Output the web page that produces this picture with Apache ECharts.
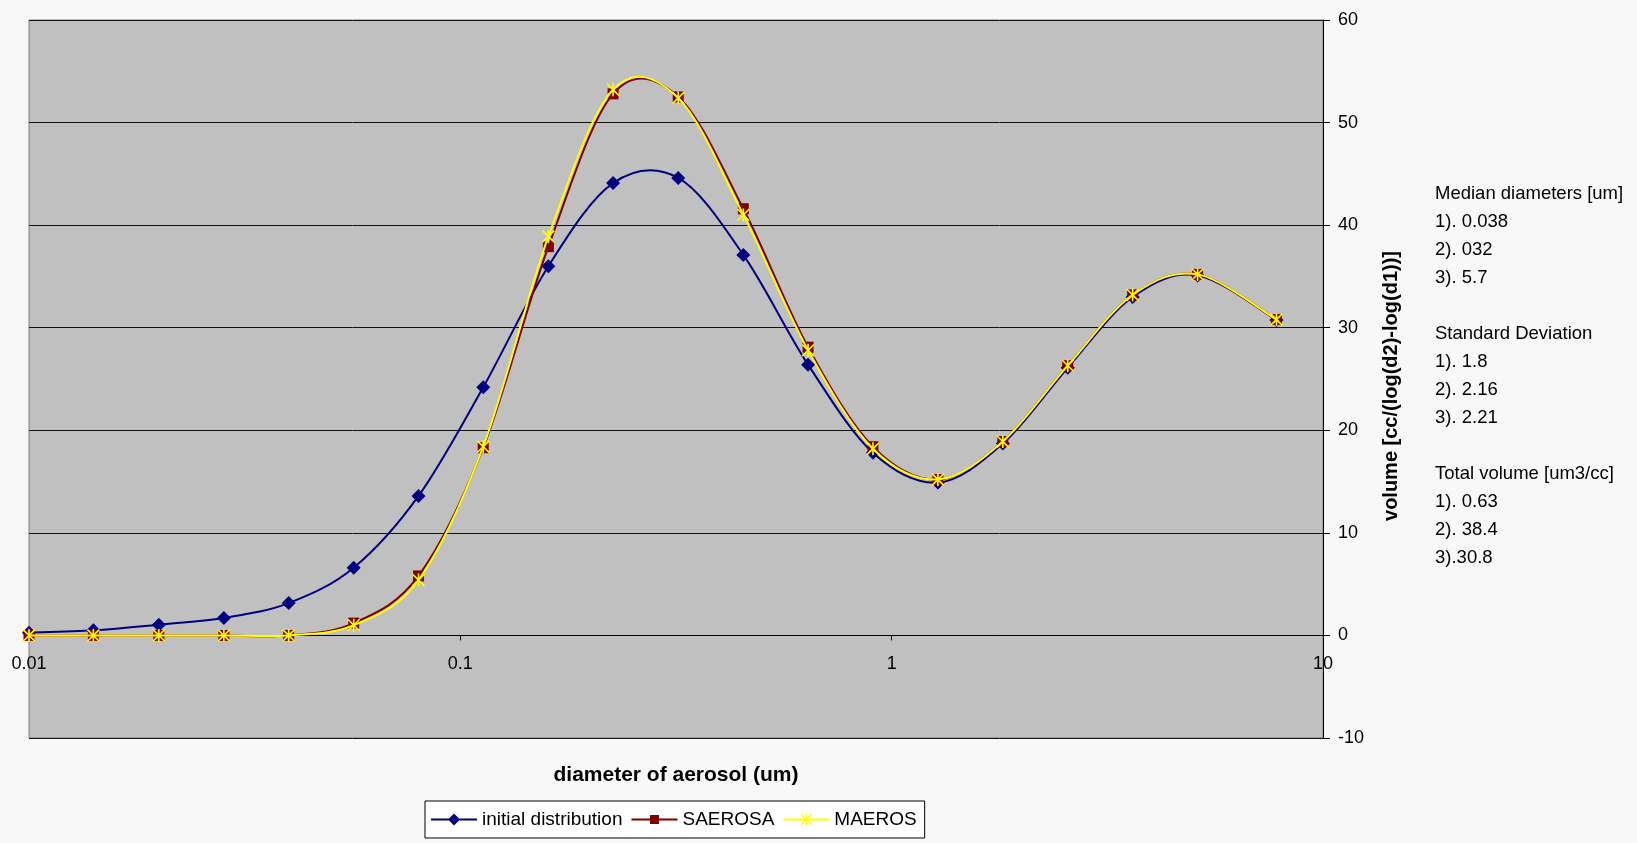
<!DOCTYPE html>
<html>
<head>
<meta charset="utf-8">
<title>Aerosol volume distribution</title>
<script src="https://cdn.jsdelivr.net/npm/echarts@6/dist/echarts.min.js"></script>
<style>
  html, body { margin: 0; padding: 0; background: #f8f8f8; }
  #chart { width: 1637px; height: 843px; }
</style>
</head>
<body>
<div id="chart"></div>
<script>
// Particle diameters (um), geometric bins
const diameters = [0.01, 0.0141, 0.02, 0.0283, 0.04, 0.0566, 0.08, 0.113, 0.16, 0.226,
                   0.32, 0.453, 0.64, 0.905, 1.28, 1.81, 2.56, 3.62, 5.12, 7.8];

// Volume distribution, cc/(log(d2)-log(d1))
const initialDistribution = [0.27, 0.5, 1.05, 1.7, 3.15, 6.6, 13.6, 24.2, 36.0, 44.1,
                             44.6, 37.1, 26.4, 17.8, 14.9, 18.7, 26.1, 33.0, 35.1, 30.75];
const saerosa = [0, 0, 0, 0, 0, 1.2, 5.8, 18.3, 37.9, 52.8,
                 52.5, 41.6, 28.1, 18.4, 15.2, 18.9, 26.3, 33.2, 35.2, 30.8];
const maeros = [0, 0, 0, 0, 0, 1.0, 5.4, 18.4, 38.9, 53.2,
                52.4, 41.0, 27.8, 18.2, 15.2, 18.9, 26.3, 33.2, 35.2, 30.8];

const seriesNames = ['initial distribution', 'SAEROSA', 'MAEROS'];
const xTickLabels = { 0.01: '0.01', 0.1: '0.1', 1: '1', 10: '10' };

// Mode parameters listed beside the chart
const notes = [
  'Median diameters [um]',
  '1). 0.038',
  '2). 032',
  '3). 5.7',
  '',
  'Standard Deviation',
  '1). 1.8',
  '2). 2.16',
  '3). 2.21',
  '',
  'Total volume [um3/cc]',
  '1). 0.63',
  '2). 38.4',
  '3).30.8'
];

const COLORS = { blue: '#000080', red: '#800000', yellow: '#ffff00' };
const FONT = '"Liberation Sans", Arial, sans-serif';

const pairs = ys => diameters.map((d, i) => [d, ys[i]]);

// Marker shapes
const asterisk = 'path://M8.8,0 L11.2,0 L11.2,20 L8.8,20 Z ' +
  'M1.85,0.15 L19.85,18.15 L18.15,19.85 L0.15,1.85 Z ' +
  'M18.15,0.15 L19.85,1.85 L1.85,19.85 L0.15,18.15 Z';

// Legend icons (46 x 12): line with the series marker in the middle
const BAR = 'M0,5 L46,5 L46,7 L0,7 Z ';
const iconDiamond = 'path://' + BAR + 'M23,0 L29,6 L23,12 L17,6 Z';
const iconSquare = 'path://' + BAR + 'M18.5,1.5 L27.5,1.5 L27.5,10.5 L18.5,10.5 Z M0,0 L0.01,0 Z M0,12 L0.01,12 Z';
const iconStar = 'path://' + BAR + 'M22.4,0 L23.6,0 L23.6,12 L22.4,12 Z ' +
  'M17.92,0.08 L28.92,11.08 L28.08,11.92 L17.08,0.92 Z ' +
  'M28.08,0.08 L28.92,0.92 L17.92,11.92 L17.08,11.08 Z';

// Smoothed curve through the points (cubic Bezier, Catmull-Rom style tangents)
function curveRenderer(ys, color) {
  return function (params, api) {
    if (params.dataIndex !== 0) return null;
    const pts = diameters.map((d, i) => api.coord([d, ys[i]]));
    const n = pts.length;
    let d = 'M' + pts[0][0] + ',' + pts[0][1];
    for (let i = 0; i < n - 1; i++) {
      const p0 = pts[Math.max(i - 1, 0)];
      const p1 = pts[i];
      const p2 = pts[i + 1];
      const p3 = pts[Math.min(i + 2, n - 1)];
      const c1x = p1[0] + (p2[0] - p0[0]) / 6, c1y = p1[1] + (p2[1] - p0[1]) / 6;
      const c2x = p2[0] - (p3[0] - p1[0]) / 6, c2y = p2[1] - (p3[1] - p1[1]) / 6;
      d += ' C' + c1x + ',' + c1y + ' ' + c2x + ',' + c2y + ' ' + p2[0] + ',' + p2[1];
    }
    return {
      type: 'path',
      shape: { pathData: d },
      style: { fill: 'none', stroke: color, lineWidth: 2, lineJoin: 'round' },
      silent: true
    };
  };
}

function curveSeries(name, ys, color, z) {
  return {
    name: name,
    type: 'custom',
    data: pairs(ys),
    encode: { x: 0, y: 1 },
    clip: true,
    itemStyle: { color: color },
    renderItem: curveRenderer(ys, color),
    z: z
  };
}

function markerSeries(name, ys, color, symbol, size, z) {
  return {
    name: name,
    type: 'scatter',
    data: pairs(ys),
    symbol: symbol,
    symbolSize: size,
    itemStyle: { color: color, opacity: 1 },
    z: z
  };
}

const chart = echarts.init(document.getElementById('chart'), null, { renderer: 'canvas' });

chart.setOption({
  backgroundColor: '#f8f8f8',
  animation: false,
  grid: {
    left: 29, top: 20, width: 1294, height: 718,
    show: true,
    backgroundColor: '#c0c0c0',
    borderColor: '#808080',
    borderWidth: 1
  },
  legend: {
    data: [
      { name: seriesNames[0], icon: iconDiamond },
      { name: seriesNames[1], icon: iconSquare },
      { name: seriesNames[2], icon: iconStar }
    ],
    left: 425, top: 801,
    padding: [9, 8, 9, 6],
    itemGap: 9,
    itemWidth: 46,
    itemHeight: 12,
    backgroundColor: '#ffffff',
    borderColor: '#000000',
    borderWidth: 1,
    borderRadius: 0,
    textStyle: { fontFamily: FONT, fontSize: 19, color: '#000' }
  },
  xAxis: {
    type: 'log',
    logBase: 10,
    min: 0.01,
    max: 10,
    position: 'bottom',
    // axis sits on y = 0: 10 of the 70 units above the bottom edge
    offset: -718 * 10 / 70,
    axisLine: { onZero: false, lineStyle: { color: '#000', width: 1 } },
    axisTick: { show: true, length: 5, inside: false, lineStyle: { color: '#000' } },
    minorTick: { show: false },
    splitLine: { show: false },
    axisLabel: {
      margin: 20,
      fontFamily: FONT,
      fontSize: 18,
      color: '#000',
      formatter: v => xTickLabels[+(+v).toPrecision(6)] || String(v)
    }
  },
  yAxis: {
    type: 'value',
    position: 'right',
    min: -10,
    max: 60,
    interval: 10,
    name: 'volume [cc/(log(d2)-log(d1))]',
    nameLocation: 'middle',
    nameRotate: 90,
    nameGap: 58,
    nameTextStyle: { fontFamily: FONT, fontWeight: 'bold', fontSize: 20, color: '#000', padding: [0, 14, 0, 0] },
    axisLine: { show: true, lineStyle: { color: '#000', width: 1 } },
    axisTick: { show: true, length: 7, lineStyle: { color: '#000' } },
    splitLine: { show: true, lineStyle: { color: '#111111', width: 1 } },
    axisLabel: { margin: 15, fontFamily: FONT, fontSize: 18, color: '#000' }
  },
  graphic: [
    {
      type: 'text',
      style: {
        text: 'diameter of aerosol (um)',
        x: 676, y: 775,
        align: 'center', verticalAlign: 'middle',
        font: 'bold 21px ' + FONT,
        fill: '#000'
      }
    },
    {
      type: 'text',
      style: {
        text: notes.join('\n'),
        x: 1435, y: 179.5,
        align: 'left', verticalAlign: 'top',
        lineHeight: 28,
        font: '18.5px ' + FONT,
        fill: '#000'
      }
    }
  ],
  series: [
    curveSeries(seriesNames[0], initialDistribution, COLORS.blue, 1),
    markerSeries(seriesNames[0], initialDistribution, COLORS.blue, 'diamond', 14, 2),
    curveSeries(seriesNames[1], saerosa, COLORS.red, 3),
    markerSeries(seriesNames[1], saerosa, COLORS.red, 'rect', 11, 4),
    curveSeries(seriesNames[2], maeros, COLORS.yellow, 5),
    markerSeries(seriesNames[2], maeros, COLORS.yellow, asterisk, 13, 6)
  ]
});
</script>
</body>
</html>
